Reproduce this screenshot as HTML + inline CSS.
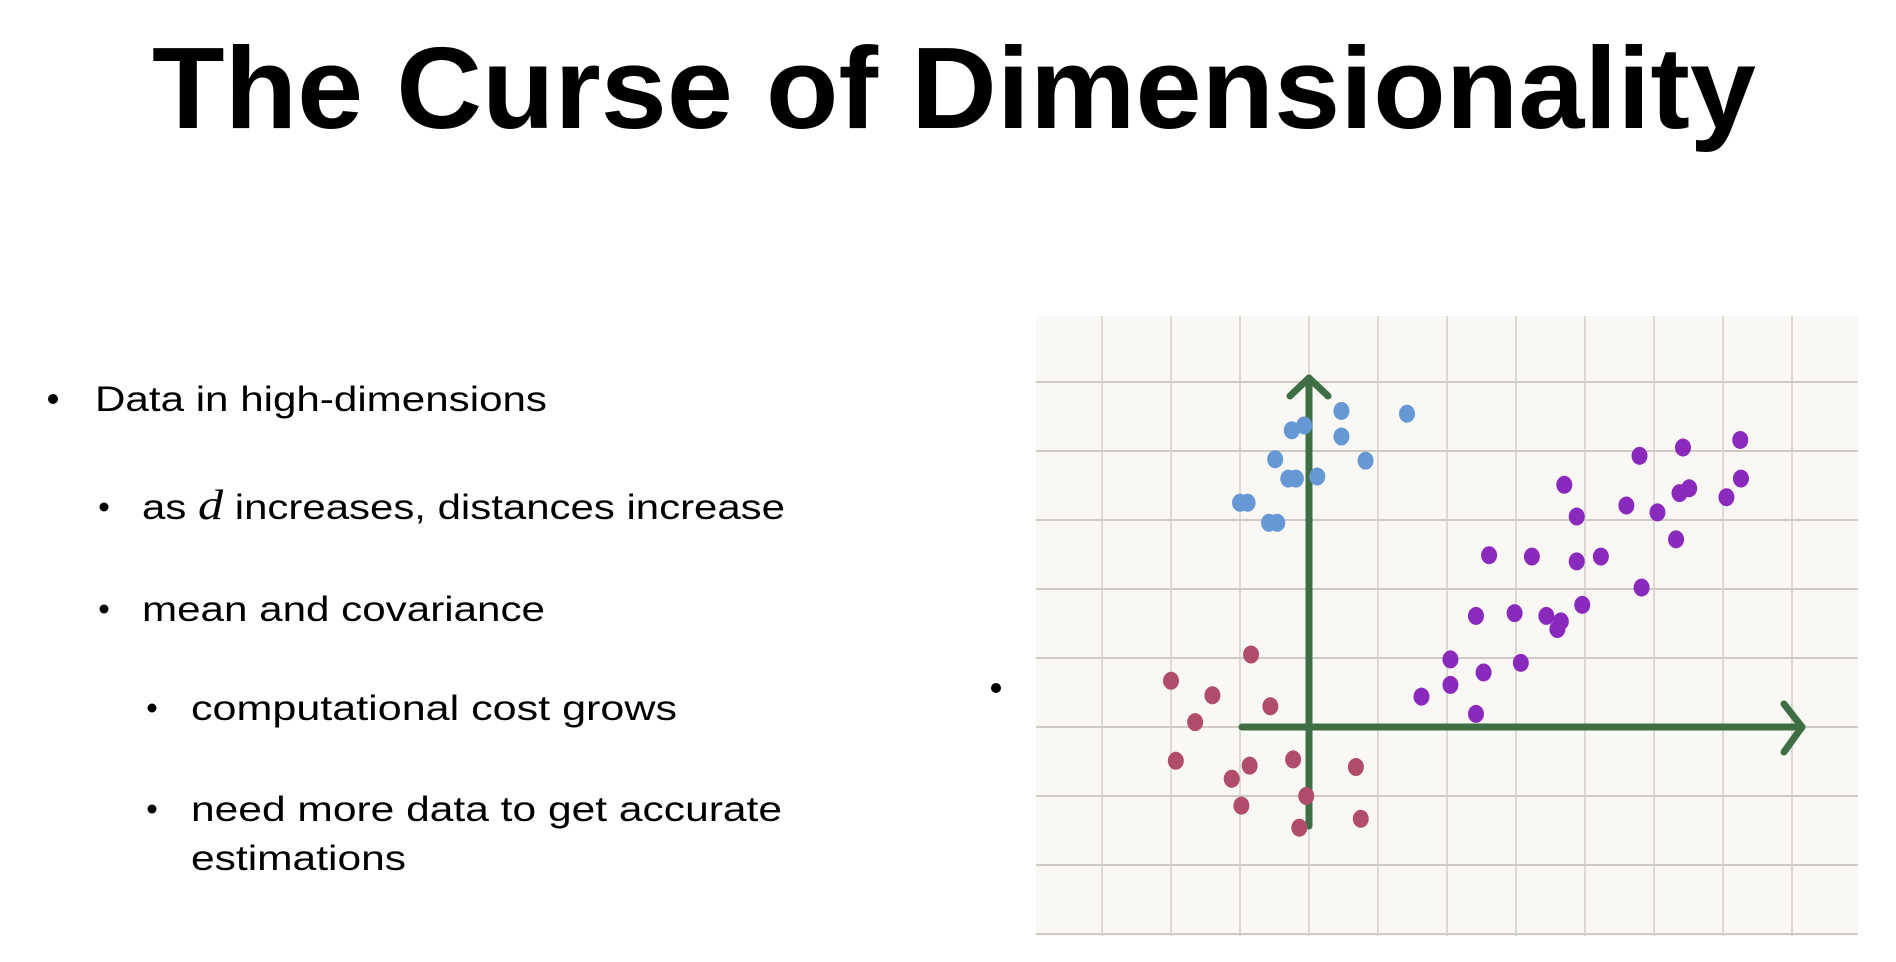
<!DOCTYPE html>
<html><head><meta charset="utf-8"><style>
html,body{margin:0;padding:0;background:#fff;}
svg{display:block;}
text{font-family:"Liberation Sans",sans-serif;fill:#000;}
</style></head><body>
<svg id="s" width="1896" height="962" viewBox="0 0 1896 962">
<text x="954" y="128" text-anchor="middle" font-size="116" font-weight="bold" textLength="1604" lengthAdjust="spacingAndGlyphs">The Curse of Dimensionality</text>
<g font-size="35">
<circle cx="53" cy="399" r="5" fill="#000"/>
<text x="95" y="411" textLength="452" lengthAdjust="spacingAndGlyphs">Data in high-dimensions</text>
<circle cx="104" cy="507" r="4.5" fill="#000"/>
<text x="142" y="519" textLength="643" lengthAdjust="spacingAndGlyphs">as <tspan font-family="Liberation Serif" font-style="italic" font-size="42">d</tspan> increases, distances increase</text>
<circle cx="104" cy="609" r="4.5" fill="#000"/>
<text x="142" y="621" textLength="403" lengthAdjust="spacingAndGlyphs">mean and covariance</text>
<circle cx="152" cy="708" r="4.5" fill="#000"/>
<text x="191" y="720" textLength="486" lengthAdjust="spacingAndGlyphs">computational cost grows</text>
<circle cx="152" cy="809" r="4.5" fill="#000"/>
<text x="191" y="821" textLength="591" lengthAdjust="spacingAndGlyphs">need more data to get accurate</text>
<text x="191" y="870" textLength="215" lengthAdjust="spacingAndGlyphs">estimations</text>
<circle cx="996" cy="688" r="5" fill="#000"/>
</g>
<g id="chart">
<rect x="1036" y="316" width="822" height="620" fill="#faf8f4"/>
<g id="grid"></g>
<g id="axes"></g>
<g id="pts"></g>
</g>
</svg>
<script>
const blueX=[0.47,1.42,-0.07,-0.25,0.47,-0.49,0.82,-0.30,-0.19,0.12,-1.0,-0.89,-0.58,-0.46];
const blueY=[4.58,4.54,4.37,4.30,4.21,3.88,3.86,3.60,3.60,3.63,3.25,3.25,2.96,2.96];
const redX=[-0.84,-2.0,-1.40,-0.56,-1.65,-1.93,-0.86,-0.23,0.68,-1.12,-0.04,-0.98,0.75,-0.14];
const redY=[1.05,0.67,0.46,0.30,0.07,-0.49,-0.56,-0.47,-0.58,-0.75,-1.0,-1.14,-1.33,-1.46];
const purpleX=[6.25,5.42,4.79,6.26,5.51,5.37,6.05,3.70,4.60,5.05,3.88,5.32,2.61,3.23,4.23,3.88,4.82,3.96,2.98,2.42,3.44,3.65,3.60,3.07,2.05,2.53,2.05,1.63,2.42];
const purpleY=[4.16,4.05,3.93,3.60,3.46,3.39,3.33,3.51,3.21,3.11,3.05,2.72,2.49,2.47,2.47,2.40,2.02,1.77,1.65,1.61,1.61,1.53,1.42,0.93,0.98,0.79,0.61,0.44,0.19];
const NS='http://www.w3.org/2000/svg';
const OX=1309, OY=727, U=69;
function sx(v){return OX+v*U;}
function sy(v){return OY-v*U;}
function mk(tag,parent,attrs){const e=document.createElementNS(NS,tag);for(const k in attrs)e.setAttribute(k,attrs[k]);parent.appendChild(e);return e;}
const grid=document.getElementById('grid');
for(let k=-4;k<=8;k++){const x=sx(k);if(x<1036||x>1858)continue;
 const l=mk('line',grid,{x1:x,x2:x,y1:316,y2:936,stroke:'#d3cfc9','stroke-width':1.5});
 
 }
for(let k=-3;k<=5;k++){const y=sy(k);if(y<316||y>936)continue;
 const l=mk('line',grid,{x1:1036,x2:1858,y1:y,y2:y,stroke:'#cfcac3','stroke-width':2});
 
 }
const ax=document.getElementById('axes');
const st={stroke:'#3f6e45','stroke-width':7,'stroke-linecap':'round','stroke-linejoin':'round',fill:'none'};
const pts=document.getElementById('pts');
function dots(X,Y,c,name){for(let i=0;i<X.length;i++){
 const e=mk('ellipse',pts,{cx:sx(X[i]),cy:sy(Y[i]),rx:8,ry:9,fill:c});
 
 }}
let a=mk('path',ax,Object.assign({d:'M1309 378 L1309 826'},st));


a=mk('path',ax,Object.assign({d:'M1290 396 L1309 378 L1328 396'},st));


a=mk('path',ax,Object.assign({d:'M1242 727 L1802 727'},st));


a=mk('path',ax,Object.assign({d:'M1784 704 L1802 727 L1784 752'},st));


dots(blueX,blueY,'#6698d5','blue-point');
dots(redX,redY,'#b04d6c','red-point');
dots(purpleX,purpleY,'#8a2abd','purple-point');
</script>
</body></html>
